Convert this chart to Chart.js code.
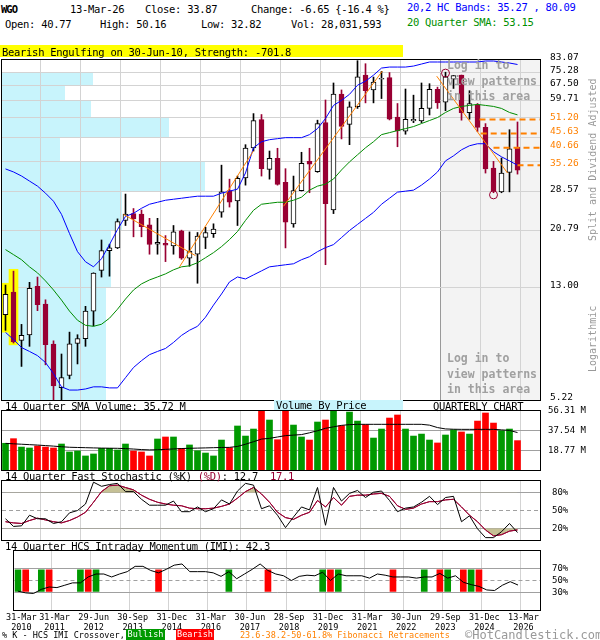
<!DOCTYPE html>
<html><head><meta charset="utf-8">
<script src="https://cdn.jsdelivr.net/npm/chart.js@4.4.1/dist/chart.umd.min.js"></script>
<style>
html,body{margin:0;padding:0;background:#fff;}
#wrap{position:relative;width:600px;height:640px;overflow:hidden;font-family:'DejaVu Sans Mono',monospace;}
canvas{position:absolute;left:0;}
.t{position:absolute;white-space:pre;font-size:10.5px;letter-spacing:-0.3px;line-height:12px;color:#000;z-index:5;}
.g{position:absolute;white-space:pre;color:#a0a0a0;font-weight:bold;font-size:11.5px;line-height:15.5px;z-index:5;}
.r{position:absolute;white-space:pre;color:#999;font-size:10px;line-height:12px;transform-origin:0 0;transform:rotate(-90deg);z-index:5;}
.f{position:absolute;white-space:pre;font-size:8.5px;line-height:11px;z-index:5;}
</style></head><body><div id="wrap">
<canvas id="cMain" width="600" height="361" style="top:45px"></canvas>
<canvas id="cVol" width="600" height="72" style="top:404px"></canvas>
<canvas id="cSto" width="600" height="72" style="top:474px"></canvas>
<canvas id="cImi" width="600" height="96" style="top:544px"></canvas>

<div class="t" style="left:1px;top:3px;font-weight:bold;letter-spacing:-1px">WGO</div>
<div class="t" style="left:70px;top:3px">13-Mar-26</div>
<div class="t" style="left:145px;top:3px">Close: 33.87</div>
<div class="t" style="left:251px;top:3px">Change: -6.65 {-16.4 %}</div>
<div class="t" style="left:5px;top:18px">Open: 40.77</div>
<div class="t" style="left:100px;top:18px">High: 50.16</div>
<div class="t" style="left:201px;top:18px">Low: 32.82</div>
<div class="t" style="left:291px;top:18px">Vol: 28,031,593</div>
<div class="t" style="left:407px;top:1px;color:#0000ff">20,2 HC Bands: 35.27 , 80.09</div>
<div class="t" style="left:407px;top:16px;color:#009000">20 Quarter SMA: 53.15</div>
<div class="t" style="left:0;top:45px;width:401px;height:11px;padding-top:1px;background:#ffff00;padding-left:2px">Bearish Engulfing on 30-Jun-10, Strength: -701.8</div>

<div class="g" style="left:447px;top:58px">Log in to
view patterns
in this area</div>
<div class="g" style="left:447px;top:351px">Log in to
view patterns
in this area</div>
<div class="r" style="left:587px;top:241px">Split and Dividend Adjusted</div>
<div class="r" style="left:587px;top:372px">Logarithmic</div>

<div class="t" style="left:5px;top:400px">14 Quarter SMA Volume: 35.72 M</div>
<div class="t" style="left:274px;top:400px;width:127px;height:10px;line-height:11px;background:#c8f4fc;padding-left:2px">Volume By Price</div>
<div class="t" style="left:433px;top:400px">QUARTERLY CHART</div>
<div class="t" style="left:5px;top:470px">14 Quarter Fast Stochastic (%K) <span style="color:#990033">(%D)</span>: 12.7  <span style="color:#990033">17.1</span></div>
<div class="t" style="left:5px;top:540px">14 Quarter HCS Intraday Momentum (IMI): 42.3</div>

<div class="f" style="left:2px;top:630px">% K - HCS IMI Crossover,</div>
<div class="f" style="left:126px;top:629px;width:39px;height:11px;background:#009900;color:#fff;text-align:center">Bullish</div>
<div class="f" style="left:176px;top:629px;width:38px;height:11px;background:#ff0000;color:#fff;text-align:center">Bearish</div>
<div class="f" style="left:240px;top:630px;color:#ff8000">23.6-38.2-50-61.8% Fibonacci Retracements</div>
<div class="t" style="left:465px;top:628px;font-size:12px;letter-spacing:0;line-height:14px;color:#999">©HotCandlestick.com</div>
</div>
<script>
// ---------------- DATA ----------------
const quarters = ['2010Q1','2010Q2','2010Q3','2010Q4','2011Q1','2011Q2','2011Q3','2011Q4','2012Q1','2012Q2','2012Q3','2012Q4','2013Q1','2013Q2','2013Q3','2013Q4','2014Q1','2014Q2','2014Q3','2014Q4','2015Q1','2015Q2','2015Q3','2015Q4','2016Q1','2016Q2','2016Q3','2016Q4','2017Q1','2017Q2','2017Q3','2017Q4','2018Q1','2018Q2','2018Q3','2018Q4','2019Q1','2019Q2','2019Q3','2019Q4','2020Q1','2020Q2','2020Q3','2020Q4','2021Q1','2021Q2','2021Q3','2021Q4','2022Q1','2022Q2','2022Q3','2022Q4','2023Q1','2023Q2','2023Q3','2023Q4','2024Q1','2024Q2','2024Q3','2024Q4','2025Q1','2025Q2','2025Q3','2025Q4','2026Q1'];
const open  = [10.45,12.57,8.48,8.87,13.16,11.4,8.23,5.77,6.37,8.28,8.6,10.76,15.0,17.6,18.0,22.5,23.8,23.7,21.7,18.55,18.7,18.3,20.7,16.55,17.1,19.6,20.2,24.1,28.7,26.4,31.8,40.6,51.1,34.1,37.3,30.7,21.9,28.7,36.4,33.5,49.9,24.5,62.9,49.2,56.8,73.5,65.1,71.0,72.0,52.2,46.5,50.6,50.6,56.0,65.4,58.9,71.0,73.5,54.1,57.7,48.0,34.5,28.4,33.3,40.77];
const high  = [13.3,14.9,9.66,13.6,14.2,11.8,8.45,7.59,9.07,8.88,11.19,14.7,19.2,18.55,22.8,27.9,24.8,24.5,22.9,22.9,19.9,21.6,20.8,20.5,20.4,21.3,21.9,35.3,31.5,32.3,41.7,53.7,53.3,39.6,40.5,34.3,32.3,39.2,40.5,50.9,60.0,68.9,65.1,59.1,82.6,80.6,72.3,75.7,75.0,58.3,65.6,62.4,68.9,68.5,66.6,75.2,73.2,73.5,64.7,58.3,49.5,36.4,37.4,47.1,50.16];
const low   = [9.2,8.3,6.86,8.08,10.8,6.95,5.2,5.1,6.2,7.0,8.08,9.54,14.2,14.3,17.9,21.6,19.7,19.7,17.1,17.1,16.1,17.1,16.4,15.5,13.5,17.9,19.6,23.1,25.1,21.6,30.0,39.6,32.3,31.5,30.0,18.0,21.3,28.6,28.2,33.3,15.7,23.8,43.7,41.7,56.0,58.6,58.6,60.7,51.0,41.0,45.4,49.9,49.9,53.1,56.0,55.0,65.9,50.9,51.3,46.4,33.1,28.2,28.2,28.4,32.82];
const close = [12.33,8.37,8.83,12.95,11.34,8.19,5.85,6.27,8.25,8.6,10.76,14.66,17.6,18.0,22.3,23.7,22.8,21.4,18.5,18.85,18.4,20.5,16.55,17.55,19.8,20.4,21.0,28.4,26.1,31.7,40.6,50.7,34.3,37.3,30.2,22.2,28.7,35.8,35.6,49.5,25.8,62.9,48.4,56.8,72.5,64.7,69.4,71.5,51.3,46.6,51.3,51.3,56.0,65.4,58.6,72.5,73.2,54.1,58.3,48.0,34.2,28.6,33.1,40.3,33.87];
const upperBand = [34.23,33.40,32.32,31.01,29.76,28.10,26.32,23.65,20.23,17.46,16.08,15.43,16.48,18.49,20.91,23.27,23.85,24.85,25.68,26.10,26.53,26.75,26.97,27.20,27.42,27.42,27.42,28.10,28.57,29.04,33.12,40.66,42.72,43.43,43.79,44.15,44.15,44.15,45.25,47.53,51.60,57.40,59.81,62.83,67.65,69.91,73.44,77.79,78.43,78.43,78.43,79.08,80.39,81.72,81.72,81.72,81.72,81.72,81.72,81.72,82.39,82.39,81.72,81.05,80.09];
const lowerBand = [9.05,8.54,8.00,7.75,7.49,7.08,6.47,5.81,5.66,5.66,5.71,5.81,5.81,5.76,5.76,6.26,6.80,7.19,7.55,7.75,7.94,8.34,8.83,9.21,9.51,10.24,11.30,12.37,13.65,14.21,13.98,14.45,14.93,15.43,15.56,15.69,15.82,16.35,16.76,17.46,18.04,18.49,19.58,20.74,21.79,22.89,24.04,25.68,26.97,28.34,28.57,28.80,30.01,31.53,33.40,36.55,38.08,40.00,41.34,42.02,42.02,39.36,37.77,36.55,35.27];
const sma20 = [17.75,17.04,16.35,15.43,14.69,13.76,12.78,11.77,10.76,9.99,9.59,9.51,9.67,10.16,10.93,11.87,12.78,13.43,13.87,14.21,14.57,15.06,15.43,15.56,15.95,16.62,17.32,18.19,19.26,20.57,22.51,24.45,25.68,25.89,26.10,26.10,26.53,27.20,28.80,29.76,30.26,31.53,33.95,36.25,38.40,40.66,42.72,45.25,46.0,46.76,47.53,48.32,49.53,50.76,52.02,54.20,56.01,56.93,57.40,57.88,57.40,56.93,56.01,54.20,53.15];
const volume = [25.5,29.9,21.9,21.0,22.9,21.9,21.0,24.8,17.2,18.1,13.4,15.3,20.7,20.7,19.1,24.8,18.1,17.2,13.4,29.6,31.5,31.5,20.7,23.9,18.4,16.2,13.4,28.6,21.3,42.0,32.4,39.1,60.0,47.7,28.9,62.0,42.9,31.5,28.6,45.8,47.7,58.0,42.3,55.3,46.7,43.2,30.5,39.1,49.6,52.5,39.1,32.4,34.3,28.6,25.8,33.4,38.4,36.3,34.3,46.7,54.4,44.8,37.5,39.1,28.03];
const volSma14 = [25.4,25.0,24.6,24.2,23.8,23.3,22.8,22.2,21.7,21.5,21.3,21.1,20.9,20.8,20.7,20.4,20.0,19.5,19.2,19.3,19.7,20.1,20.5,20.7,20.9,21.1,21.3,21.5,21.6,22.5,24.6,27.0,29.5,30.2,31.5,32.8,33.3,33.8,35.5,37.5,39.8,41.2,42.6,43.3,43.6,43.6,43.6,43.6,43.6,43.6,43.6,43.6,43.6,42.8,40.5,39.2,38.9,38.8,38.8,38.8,38.8,38.8,38.3,37.8,35.72];
const stochK = [36,23,24,42,36,36,28,31,46,50,61,98,91,94,96,82,82,69,59,59,59,66,48,48,56,48,53,68,61,83,96,93,53,58,42,21,39,56,51,89,25,89,66,79,84,72,81,83,67,48,54,56,64,74,60,72,74,31,41,19,4,4,14,28,12.7];
const stochD = [31,29,28,33,37,34,31,29,33,39,47,64,82,92,93,89,85,76,69,64,61,59,58,54,53,53,54,57,61,71,82,89,78,64,47,38,35,42,47,67,56,72,59,74,76,76,78,79,74,58,52,54,61,65,65,68,69,56,42,31,17,7,9,15,17.1];
const imi = [32,29,28,35,39,38,42,46,46,56,61,61,56,61,65,74,74,67,63,69,76,78,65,65,65,63,57,65,53,61,69,78,67,61,58,50,57,59,58,64,50,61,58,58,58,54,61,59,56,56,56,54,56,56,62,54,58,47,43,40,34,33,42,48,42.3];
const bullCross = [0,3,8,10,27,39,41,52,55,58];
const bearCross = [1,4,9,18,32,40,48,54,57,59];
const crossRange = [31.5,68];
// volume-by-price: price band edges and relative volume per band
const vbpEdges  = [5.22,13.00,20.79,28.57,36.36,44.14,51.92,59.71,67.50,75.28,83.07];
const vbpVolume = [19.3,20.2,22.3,37.8,10.8,31.0,16.5,11.7,16.9,0];
// price axis ticks
const yTicks = [5.22,13.00,20.79,28.57,36.36,44.14,51.92,59.71,67.50,75.28,83.07];
const yHiddenLabels = [36.36,44.14,51.92];
const fibLevels = [51.20,45.63,40.66,35.26];
const fibStart  = [59.25,59.4,61.0,64.0];
const trendLines = [[[14.75,23.65],[23.75,16.90]],[[21.75,15.43],[31.0,39.68]],[[34.75,25.26],[47.1,75.9]],[[53.9,72.84],[62.75,33.12]]];
const pivotCircles = [[55,74.66],[61,27.72]];
const patternIdx = [0,1];
const xLabelIdx = [0,4,9,14,19,24,29,34,39,44,49,54,59,64];
const xLabels = [['31-Mar','2010'],['31-Mar','2011'],['29-Jun','2012'],['30-Sep','2013'],['31-Dec','2014'],['31-Mar','2016'],['30-Jun','2017'],['28-Sep','2018'],['31-Dec','2019'],['31-Mar','2021'],['30-Jun','2022'],['29-Sep','2023'],['31-Dec','2024'],['13-Mar','2026']];
const volTicks = [18.77,37.54,56.31];
const stoTicks = [20,50,80];
const imiTicks = [30,50,70];

// ---------------- STYLE ----------------
const CRIMSON='#990033', BLUE='#0000ff', SGREEN='#008c00', ORANGE='#ff8000', VGREEN='#009900', VRED='#ff0000';
const CYAN='#c8f4fc', SHADE='#f3f3f3', GRID='#d3d3d3', HGRID='#a0a0a0', OLIVE='#c5c095', NONE='rgba(0,0,0,0)';
const XMIN=-0.4375, XMAX=66.8125, GRID_OFF=0.3125, SHADE_FROM=54.3125;
const gridIdx = xLabelIdx.slice(1).map(i=>i+GRID_OFF);
const idx = quarters.map((_,i)=>i);
const up = idx.map(i=>close[i]>=open[i]);
const pts = arr => arr.map((v,i)=>({x:i,y:v}));
const FONT = 'DejaVu Sans Mono';

const frame = {id:'frame', afterDraw(c){const a=c.chartArea,ctx=c.ctx;ctx.save();ctx.strokeStyle='#000';ctx.lineWidth=1;
  ctx.strokeRect(Math.round(a.left)-0.5,Math.round(a.top)-0.5,Math.round(a.right-a.left)+1,Math.round(a.bottom-a.top)+1);ctx.restore();}};

const mainDecor = {id:'mainDecor',
  beforeDraw(c){const {ctx,chartArea:a,scales:{x,y,xv}}=c;ctx.save();
    const sx=x.getPixelForValue(SHADE_FROM);ctx.fillStyle=SHADE;ctx.fillRect(sx,a.top,a.right-sx,a.bottom-a.top);
    ctx.fillStyle=CYAN;
    for(let k=0;k<vbpVolume.length;k++){ if(!vbpVolume[k]) continue;
      const yT=Math.round(y.getPixelForValue(vbpEdges[k+1])), yB=Math.round(y.getPixelForValue(vbpEdges[k]));
      const xr=Math.round(xv.getPixelForValue(vbpVolume[k]));
      ctx.fillRect(a.left,yT,xr-a.left,yB-yT);}
    ctx.restore();}
};

function xScale(extra){return Object.assign({type:'linear',min:XMIN,max:XMAX,offset:false,
  grid:{color:GRID,drawTicks:false,offset:false},border:{display:false},ticks:{display:false},
  afterBuildTicks:s=>{s.ticks=gridIdx.map(v=>({value:v}));},afterFit:s=>{s.height=0;}},extra||{});}
const baseOpts = {responsive:false,animation:false,devicePixelRatio:1,events:[],
  plugins:{legend:{display:false},tooltip:{enabled:false}}};
const lay = (t,b)=>({autoPadding:false,padding:{left:2,top:t,right:0,bottom:b}});

// ---------------- MAIN ----------------
const mainDatasets = [
  {type:'bar',data:patternIdx.map(i=>({x:i,y:[low[i]*0.985,high[i]*1.015]})),backgroundColor:'#ffff00',barThickness:9,grouped:false,order:10},
  {type:'bar',data:idx.map(i=>({x:i,y:[low[i],high[i]]})),backgroundColor:idx.map(i=>up[i]?'#000':CRIMSON),barThickness:1,grouped:false,order:6},
  {type:'bar',data:idx.map(i=>({x:i,y:[open[i],close[i]]})),backgroundColor:idx.map(i=>up[i]?'#fff':CRIMSON),
    borderColor:idx.map(i=>up[i]?'#000':CRIMSON),borderWidth:1,borderSkipped:false,barThickness:5,grouped:false,order:5},
  {type:'line',data:pts(upperBand),borderColor:BLUE,borderWidth:1,pointRadius:0,order:2},
  {type:'line',data:pts(lowerBand),borderColor:BLUE,borderWidth:1,pointRadius:0,order:2},
  {type:'line',data:pts(sma20),borderColor:SGREEN,borderWidth:1,pointRadius:0,order:2},
  ...trendLines.map(l=>({type:'line',data:l.map(p=>({x:p[0],y:p[1]})),borderColor:ORANGE,borderWidth:1,pointRadius:0,order:1})),
  ...fibLevels.map((v,k)=>({type:'line',data:[{x:fibStart[k],y:v},{x:XMAX,y:v}],borderColor:ORANGE,borderWidth:2,borderDash:[6,4],pointRadius:0,order:1})),
  {type:'line',data:pivotCircles.map(p=>({x:p[0],y:p[1]})),showLine:false,pointRadius:4,pointBorderWidth:1,pointBorderColor:CRIMSON,pointBackgroundColor:NONE,order:0}
];
new Chart(document.getElementById('cMain'),{type:'line',data:{datasets:mainDatasets},
  options:Object.assign({},baseOpts,{layout:lay(15,6),
   scales:{
    x:xScale({grid:{color:c=>Math.abs(c.tick.value-SHADE_FROM)<1e-6?'#999':GRID,drawTicks:false,offset:false}}),
    xv:{type:'linear',display:false,min:0,max:100,position:'bottom'},
    y:{type:'logarithmic',position:'right',min:5.22,max:83.07,
      grid:{color:c=>{const v=c.tick.value;return (v===5.22||v===83.07||fibLevels.includes(v))?NONE:GRID;},drawTicks:true,tickLength:10,tickColor:NONE},
      border:{display:false},
      afterBuildTicks:s=>{s.ticks=yTicks.concat(fibLevels).map(v=>({value:v}));},
      afterFit:s=>{s.width=60;},
      ticks:{autoSkip:false,padding:0,labelOffset:-2,font:{family:FONT,size:9.5},
        color:c=>fibLevels.includes(c.tick.value)?ORANGE:'#000',
        callback:v=>yHiddenLabels.includes(v)?'':v.toFixed(2)}}
   }}),
  plugins:[mainDecor,frame]});

// ---------------- VOLUME ----------------
new Chart(document.getElementById('cVol'),{type:'line',data:{datasets:[
  {type:'bar',data:idx.map(i=>({x:i,y:volume[i]})),backgroundColor:idx.map(i=>up[i]?VGREEN:VRED),barThickness:6,grouped:false,order:2},
  {type:'line',data:pts(volSma14),borderColor:'#000',borderWidth:1,pointRadius:0,order:1}]},
  options:Object.assign({},baseOpts,{layout:lay(7,6),
   scales:{x:xScale(),
    y:{type:'linear',position:'right',min:0,max:56.31,
      grid:{color:c=>c.tick.value===56.31?NONE:HGRID,drawTicks:true,tickLength:8,tickColor:NONE},border:{display:false},
      afterBuildTicks:s=>{s.ticks=volTicks.map(v=>({value:v}));},afterFit:s=>{s.width=60;},
      ticks:{autoSkip:false,padding:0,font:{family:FONT,size:9},color:'#000',callback:v=>v.toFixed(2)+' M'}}}}),
  plugins:[frame]});

// ---------------- STOCHASTIC ----------------
new Chart(document.getElementById('cSto'),{type:'line',data:{datasets:[
  {data:pts(stochD),borderColor:CRIMSON,borderWidth:1,pointRadius:0,fill:{target:{value:80},above:OLIVE,below:NONE},order:3},
  {data:pts(stochD),borderColor:NONE,borderWidth:0,pointRadius:0,fill:{target:{value:20},above:NONE,below:OLIVE},order:4},
  {data:pts(stochD),borderColor:CRIMSON,borderWidth:1,pointRadius:0,order:2},
  {data:pts(stochK),borderColor:'#000',borderWidth:1,pointRadius:0,order:1}]},
  options:Object.assign({},baseOpts,{layout:lay(7,6),
   scales:{x:xScale(),
    y:{type:'linear',position:'right',min:0,max:100,
      grid:{color:HGRID,drawTicks:true,tickLength:12,tickColor:NONE},border:{display:false,dash:c=>(c.tick&&c.tick.value===50)?[4,3]:[]},
      afterBuildTicks:s=>{s.ticks=stoTicks.map(v=>({value:v}));},afterFit:s=>{s.width=60;},
      ticks:{autoSkip:false,padding:0,font:{family:FONT,size:9},color:'#000',callback:v=>v+'%'}}}}),
  plugins:[frame]});

// ---------------- IMI ----------------
const xLabelPos = xLabelIdx.map((i,k)=>k===0?i+0.0625:i+GRID_OFF);
new Chart(document.getElementById('cImi'),{type:'line',data:{datasets:[
  {type:'bar',data:bullCross.map(i=>({x:i,y:crossRange})),backgroundColor:VGREEN,barThickness:6,grouped:false,order:2},
  {type:'bar',data:bearCross.map(i=>({x:i,y:crossRange})),backgroundColor:VRED,barThickness:6,grouped:false,order:2},
  {type:'line',data:pts(imi),borderColor:'#000',borderWidth:1,pointRadius:0,order:1}]},
  options:Object.assign({},baseOpts,{layout:lay(7,0),
   scales:{
    x:{type:'linear',min:XMIN,max:XMAX,offset:false,
      grid:{color:c=>c.index===0?NONE:GRID,drawTicks:false,offset:false},border:{display:false},
      afterBuildTicks:s=>{s.ticks=xLabelPos.map(v=>({value:v}));},afterFit:s=>{s.height=30;},
      ticks:{autoSkip:false,maxRotation:0,padding:3,labelOffset:3,font:{family:FONT,size:8.5,lineHeight:1.15},color:'#000',
        callback:(v,k)=>xLabels[k]}},
    y:{type:'linear',position:'right',min:0,max:100,
      grid:{color:HGRID,drawTicks:true,tickLength:12,tickColor:NONE},border:{display:false,dash:c=>(c.tick&&c.tick.value===50)?[4,3]:[]},
      afterBuildTicks:s=>{s.ticks=imiTicks.map(v=>({value:v}));},afterFit:s=>{s.width=60;},
      ticks:{autoSkip:false,padding:0,font:{family:FONT,size:9},color:'#000',callback:v=>v+'%'}}}}),
  plugins:[frame]});
</script>
</body></html>
